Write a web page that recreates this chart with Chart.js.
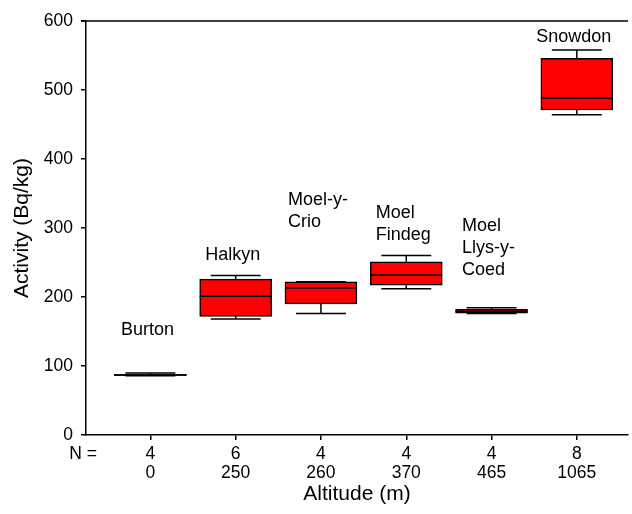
<!DOCTYPE html>
<html><head><meta charset="utf-8">
<script src="https://cdn.jsdelivr.net/npm/chart.js@4.4.1/dist/chart.umd.min.js"></script>
<style>html,body{margin:0;padding:0;background:#fff}</style>
</head><body>
<canvas id="c" width="632" height="514"></canvas>
<script>
// ---- data ----
const sites = ['Burton', 'Halkyn', 'Moel-y-Crio', 'Moel Findeg', 'Moel Llys-y-Coed', 'Snowdon'];
const siteLabelLines = [['Burton'], ['Halkyn'], ['Moel-y-', 'Crio'], ['Moel', 'Findeg'], ['Moel', 'Llys-y-', 'Coed'], ['Snowdon']];
const altitudes = ['0', '250', '260', '370', '465', '1065'];
const sampleSizes = ['4', '6', '4', '4', '4', '8'];
const whiskerLow = [86, 168, 176, 212, 176, 464];
const quartile1 = [86, 172, 190, 217, 176.5, 471];
const medians = [87, 201, 213, 232, 179, 488];
const quartile3 = [88, 226, 222, 251, 182, 546];
const whiskerHigh = [90, 231, 222, 260, 184.5, 558];
const yTickValues = [0, 100, 200, 300, 400, 500, 600];

// ---- annotation placement (value of the last label line's centre) ----
const labelLevels = [152, 261, 309, 290, 239, 577];

const FONT = "'Liberation Sans', Arial, Helvetica, sans-serif";

const boxPlugin = {
  id: 'boxExtras',
  afterDatasetsDraw(chart) {
    const {ctx, scales: {x, y}, chartArea} = chart;
    ctx.save();
    ctx.strokeStyle = '#000';
    ctx.lineWidth = 1.5;
    const capHalf = 25;
    sites.forEach((s, i) => {
      const cx = x.getPixelForValue(i + 1);
      const yl = y.getPixelForValue(whiskerLow[i]);
      const y1 = y.getPixelForValue(quartile1[i]);
      const ym = y.getPixelForValue(medians[i]);
      const y3 = y.getPixelForValue(quartile3[i]);
      const yh = y.getPixelForValue(whiskerHigh[i]);
      const half = chart.getDatasetMeta(0).data[i].width / 2;
      ctx.beginPath();
      ctx.moveTo(cx, y3); ctx.lineTo(cx, yh);
      ctx.moveTo(cx - capHalf, yh); ctx.lineTo(cx + capHalf, yh);
      ctx.moveTo(cx, y1); ctx.lineTo(cx, yl);
      ctx.moveTo(cx - capHalf, yl); ctx.lineTo(cx + capHalf, yl);
      ctx.moveTo(cx - half, ym); ctx.lineTo(cx + half, ym);
      ctx.stroke();
    });
    // top frame line
    ctx.beginPath();
    ctx.moveTo(chartArea.left - 5, chartArea.top);
    ctx.lineTo(chartArea.right, chartArea.top);
    ctx.stroke();
    // site labels
    ctx.fillStyle = '#000';
    ctx.font = '18px ' + FONT;
    ctx.textAlign = 'left';
    ctx.textBaseline = 'middle';
    const lh = 22;
    sites.forEach((s, i) => {
      const lines = siteLabelLines[i];
      const w = Math.max(...lines.map(t => ctx.measureText(t).width));
      const cx = x.getPixelForValue(i + 1);
      const lastY = y.getPixelForValue(labelLevels[i]);
      lines.forEach((t, k) => {
        ctx.fillText(t, cx - w / 2 - 3, lastY - (lines.length - 1 - k) * lh);
      });
    });
    // "N =" row label
    ctx.font = '17.5px ' + FONT;
    ctx.textAlign = 'right';
    ctx.fillText('N =', 97, chartArea.bottom + 19);
    ctx.restore();
  }
};

new Chart(document.getElementById('c'), {
  type: 'bar',
  data: {
    datasets: [{
      label: 'Activity',
      data: sites.map((s, i) => ({x: i + 1, y: [quartile1[i], quartile3[i]]})),
      backgroundColor: '#ff0000',
      borderColor: '#000',
      borderWidth: 1.5,
      borderSkipped: false,
      barThickness: 72
    }]
  },
  options: {
    responsive: false,
    animation: false,
    devicePixelRatio: 1,
    layout: {padding: {top: 21, right: 4, left: 0, bottom: 0}},
    plugins: {legend: {display: false}, tooltip: {enabled: false}},
    scales: {
      x: {
        type: 'linear',
        offset: false,
        min: 0.245,
        max: 6.6,
        afterBuildTicks: (s) => { s.ticks = sites.map((_, i) => ({value: i + 1})); },
        afterFit: (s) => { s.height = 79; },
        ticks: {
          color: '#000',
          font: {family: FONT, size: 17.5, lineHeight: 1.09},
          padding: 5,
          maxRotation: 0,
          autoSkip: false,
          callback: (v) => [sampleSizes[v - 1], altitudes[v - 1]]
        },
        grid: {offset: false, drawOnChartArea: false, drawTicks: true, tickLength: 5, color: '#000', lineWidth: 1.5},
        border: {color: '#000', width: 1.5},
        title: {display: true, text: 'Altitude (m)', color: '#000', font: {family: FONT, size: 21}, padding: {top: 2, bottom: 7}}
      },
      y: {
        type: 'linear',
        min: 0,
        max: 600,
        afterBuildTicks: (s) => { s.ticks = yTickValues.map(v => ({value: v})); },
        afterFit: (s) => { s.width = 86; },
        ticks: {color: '#000', font: {family: FONT, size: 17.5}, padding: 8},
        grid: {drawOnChartArea: false, drawTicks: true, tickLength: 5, color: '#000', lineWidth: 1.5},
        border: {color: '#000', width: 1.5},
        title: {display: true, text: 'Activity (Bq/kg)', color: '#000', font: {family: FONT, size: 21}, padding: {top: 10, bottom: 2}}
      }
    }
  },
  plugins: [boxPlugin]
});
</script>
</body></html>
